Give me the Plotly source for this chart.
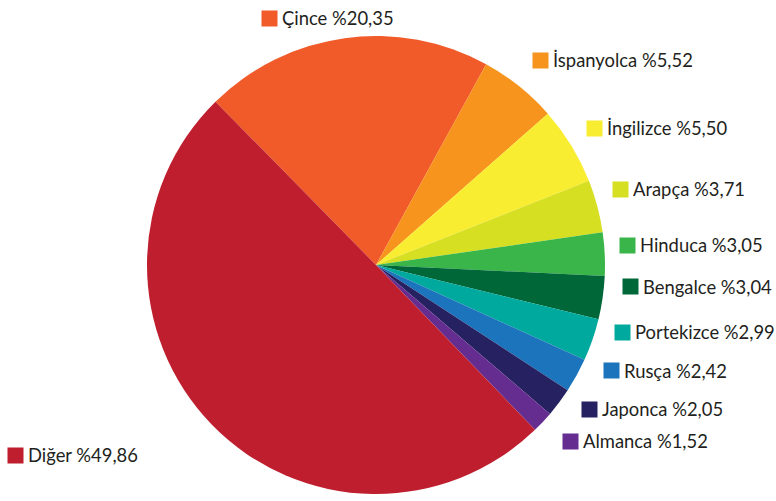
import math
import plotly.graph_objects as go

# ---- data ----
languages = ["Çince", "İspanyolca", "İngilizce", "Arapça", "Hinduca", "Bengalce",
             "Portekizce", "Rusça", "Japonca", "Almanca", "Diğer"]
shares = [20.35, 5.52, 5.50, 3.71, 3.05, 3.04, 2.99, 2.42, 2.05, 1.52, 49.86]

# ---- styles ----
colors = ["#F15A29", "#F7941D", "#F9ED32", "#D7DF23", "#39B54A", "#006838",
          "#00A99D", "#1C75BC", "#262262", "#662D91", "#BE1E2D"]
W, H = 776, 501
CX, CY, R = 376, 265, 229
START = -44.5            # bearing of first slice start (deg, clockwise from 12 o'clock)
LABEL_R = 250
ANGLE_SHIFT = -2.5
# small per-label nudges (px) for label placement
nudges = [(-70, -1), (8, -3), (3, 3), (-3, -1), (-6, 3), (-3, -3),
          (-2, -4), (3, -5), (-1, 3), (-3, 13), (-198, 8)]
FONT = "Lato"
FS = 18.4
SQ = 15

fig = go.Figure(go.Pie(
    labels=languages,
    values=shares,
    marker=dict(colors=colors, line=dict(width=0)),
    sort=False,
    direction="clockwise",
    rotation=START,
    textinfo="none",
    hoverinfo="label+percent",
    showlegend=False,
    domain=dict(x=[(CX - R) / W, (CX + R) / W], y=[1 - (CY + R) / H, 1 - (CY - R) / H]),
))

total = sum(shares)
cum = 0.0
annotations = []
for lang, v, c, (dx, dy) in zip(languages, shares, colors, nudges):
    mid = START + (cum + v / 2) / total * 360.0
    cum += v
    th = math.radians(mid + ANGLE_SHIFT)
    px = CX + LABEL_R * math.sin(th) + dx
    py = CY - LABEL_R * math.cos(th) + dy
    xp, yp = px / W, 1 - py / H
    annotations.append(dict(
        x=xp, y=yp, xref="paper", yref="paper", xanchor="left", yanchor="middle",
        text=" ", showarrow=False, width=SQ, height=SQ, bgcolor=c, borderpad=0,
        font=dict(size=2),
    ))
    txt = f"{lang} %{v:.2f}".replace(".", ",")
    annotations.append(dict(
        x=xp, y=yp, xref="paper", yref="paper", xanchor="left", yanchor="middle",
        xshift=SQ + 4, text=txt, showarrow=False,
        font=dict(family=FONT, size=FS, color="#231F20"),
    ))

fig.update_layout(
    width=W, height=H,
    margin=dict(l=0, r=0, t=0, b=0),
    paper_bgcolor="white", plot_bgcolor="white",
    annotations=annotations,
)

fig.write_html("out.html")
